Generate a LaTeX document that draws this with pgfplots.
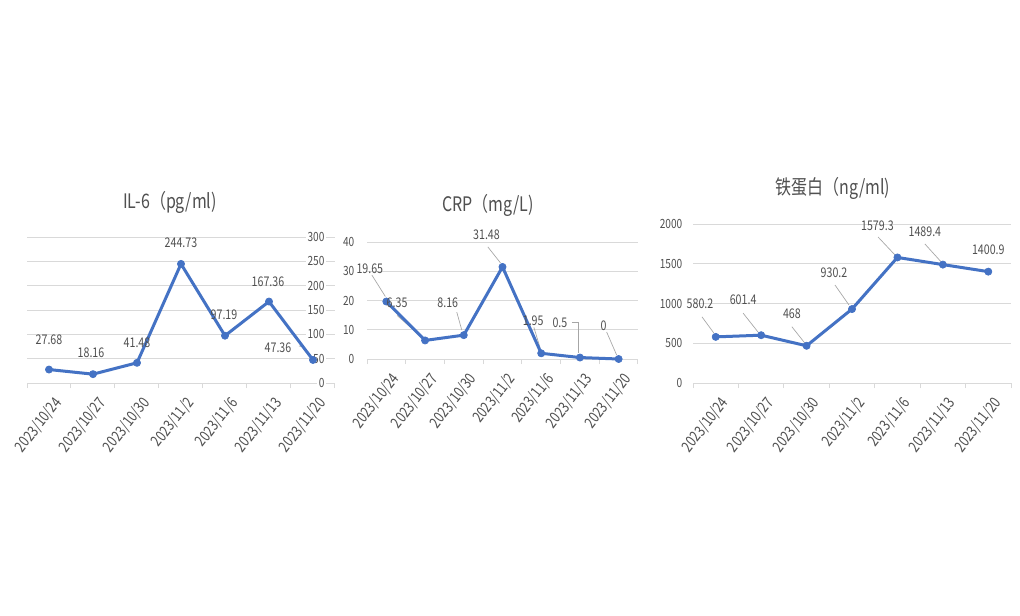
\documentclass[border=0pt]{standalone}
\usepackage{fontspec}
\setmainfont{Noto Sans CJK SC}[FakeStretch=0.8]
\usepackage{pgfplots}
\pgfplotsset{compat=1.18}
\usepackage{pgfplotstable}
\definecolor{lineblue}{HTML}{4472C4}
\definecolor{txtgray}{HTML}{505050}
\definecolor{gridgray}{HTML}{D9D9D9}
\definecolor{leadgray}{HTML}{A6A6A6}

\pgfplotstableread{
x y lab lx ly
0 27.68 27.68 0 22.1
1 18.16 18.16 -1.5 15.75
2 41.48 41.48 0 15
3 244.73 244.73 0 15.75
4 97.19 97.19 -0.75 15.75
5 167.36 167.36 -0.75 14.6
6 47.36 47.36 -26.25 9
}\ILsix

\pgfplotstableread{
x y lab lx ly
0 19.65 19.65 -12.4 24.4
1 6.35 6.35 -21 28.5
2 8.16 8.16 -12 24
3 31.48 31.48 -12 24
4 1.95 1.95 -6 24.75
5 0.5 0.5 -15 25.9
6 0 0 -11.25 24.75
}\CRP

\pgfplotstableread{
x y lab lx ly
0 580.2 580.2 -11.8 24.75
1 601.4 601.4 -13.5 26.25
2 468 468 -11 24
3 930.2 930.2 -13.5 27
4 1579.3 1579.3 -15 24
5 1489.4 1489.4 -13.5 24.75
6 1400.9 1400.9 0 16.2
}\Ferritin

\tikzset{leader/.style={leadgray, line width=0.5pt}}
\pgfplotsset{
  excel/.style={
    scale only axis, anchor=south west,
    xmin=-0.5, xmax=6.5, ymin=0,
    xtick={0,...,6},
    xticklabels={2023/10/24,2023/10/27,2023/10/30,2023/11/2,2023/11/6,2023/11/13,2023/11/20},
    minor xtick={-0.5,0.5,...,6.5},
    major tick length=0pt, minor tick length=3.75pt, tick align=outside,
    x axis line style={gridgray, line width=0.75pt, -},
    y axis line style={draw=none},
    ymajorgrids, grid style={gridgray, line width=0.75pt},
    minor tick style={gridgray, line width=0.75pt},
    major tick style={draw=none},
    ticklabel style={font=\fontsize{9.5}{10}\selectfont, text=txtgray},
    xticklabel style={font=\fontsize{11.5}{12}\selectfont, xshift=2.5pt, yshift=-7.5pt, rotate=52, anchor=north east, inner sep=1pt},
    /pgf/number format/assume math mode=true,
    /pgf/number format/1000 sep={},
    clip=false,
    point meta=explicit symbolic,
    nodes near coords,
    visualization depends on={\thisrow{lx} \as \lx},
    visualization depends on={\thisrow{ly} \as \ly},
    every node near coord/.append style={anchor=center, font=\fontsize{10}{11}\selectfont, text=txtgray, xshift=\lx pt, yshift=\ly pt},
  },
  excelline/.style={lineblue, line width=2.25pt, line join=round, mark=*, mark size=2.7pt, mark options={fill=lineblue, draw=lineblue, line width=0.5pt}},
}

\begin{document}
\begin{tikzpicture}
\path[use as bounding box, fill=white] (0,0) rectangle (765pt,461.25pt);

% IL-6
\begin{axis}[excel, at={(20.25pt,174pt)}, width=231pt, height=109.5pt,
  ymax=300, ytick={0,50,...,300},
  axis x line*=bottom, axis y line*=right,
  yticklabel style={anchor=east, xshift=-6.75pt, fill=white, inner sep=1pt}]
\draw[leader] ([xshift=-10.5pt,yshift=10.5pt]axis cs:6,47.36) -- ([xshift=-7.5pt,yshift=9.75pt]axis cs:6,47.36);
\addplot[excelline] table[x=x,y=y,meta=lab] {\ILsix};
\end{axis}
\node[text=txtgray, font=\fontsize{15}{17}\selectfont] at (127.5pt,309.75pt) {IL-6（pg/ml)};

% CRP
\begin{axis}[excel, at={(275.25pt,192pt)}, width=203.25pt, height=87.75pt,
  ymax=40, ytick={0,10,...,40},
  axis x line*=bottom, axis y line*=left,
  yticklabel style={xshift=-6pt}]
\draw[leader] ([xshift=-10.9pt,yshift=19.9pt]axis cs:0,19.65) -- ([xshift=-0.75pt,yshift=3.75pt]axis cs:0,19.65);
\draw[leader] ([xshift=-21pt,yshift=18.75pt]axis cs:1,6.35) -- ([xshift=-2.25pt,yshift=2.25pt]axis cs:1,6.35);
\draw[leader] ([xshift=-5.25pt,yshift=17.25pt]axis cs:2,8.16) -- ([xshift=-1.5pt,yshift=3.75pt]axis cs:2,8.16);
\draw[leader] ([xshift=-11pt,yshift=15pt]axis cs:3,31.48) -- ([xshift=-1.5pt,yshift=3pt]axis cs:3,31.48);
\draw[leader] ([xshift=-5.5pt,yshift=19.5pt]axis cs:4,1.95) -- ([xshift=-0.75pt,yshift=3.75pt]axis cs:4,1.95);
\draw[leader] ([xshift=-6pt,yshift=26.6pt]axis cs:5,0.5) -- ([xshift=-1.5pt,yshift=26.6pt]axis cs:5,0.5) -- ([xshift=-1.5pt,yshift=3.75pt]axis cs:5,0.5);
\draw[leader] ([xshift=-9pt,yshift=20.25pt]axis cs:6,0) -- ([xshift=-1.5pt,yshift=3pt]axis cs:6,0);
\addplot[excelline] table[x=x,y=y,meta=lab] {\CRP};
\end{axis}
\node[text=txtgray, font=\fontsize{15}{17}\selectfont] at (366pt,307.5pt) {CRP（mg/L)};

% Ferritin
\begin{axis}[excel, at={(519.75pt,174pt)}, width=238.5pt, height=119.25pt,
  ymax=2000, ytick={0,500,...,2000},
  axis x line*=bottom, axis y line*=left,
  yticklabel style={xshift=-4.5pt}]
\draw[leader] ([xshift=-10.3pt,yshift=15pt]axis cs:0,580.2) -- ([xshift=-1.5pt,yshift=3pt]axis cs:0,580.2);
\draw[leader] ([xshift=-13.5pt,yshift=16.5pt]axis cs:1,601.4) -- ([xshift=-2.25pt,yshift=2.25pt]axis cs:1,601.4);
\draw[leader] ([xshift=-11pt,yshift=14.25pt]axis cs:2,468) -- ([xshift=-1.5pt,yshift=2.25pt]axis cs:2,468);
\draw[leader] ([xshift=-12.75pt,yshift=18pt]axis cs:3,930.2) -- ([xshift=-2.25pt,yshift=3pt]axis cs:3,930.2);
\draw[leader] ([xshift=-14.5pt,yshift=15.3pt]axis cs:4,1579.3) -- ([xshift=-1.5pt,yshift=1.5pt]axis cs:4,1579.3);
\draw[leader] ([xshift=-13.5pt,yshift=15.5pt]axis cs:5,1489.4) -- ([xshift=-1.5pt,yshift=2.25pt]axis cs:5,1489.4);
\addplot[excelline] table[x=x,y=y,meta=lab] {\Ferritin};
\end{axis}
\node[text=txtgray, font=\fontsize{15}{17}\selectfont] at (624.75pt,320.25pt) {铁蛋白（ng/ml)};
\end{tikzpicture}
\end{document}
